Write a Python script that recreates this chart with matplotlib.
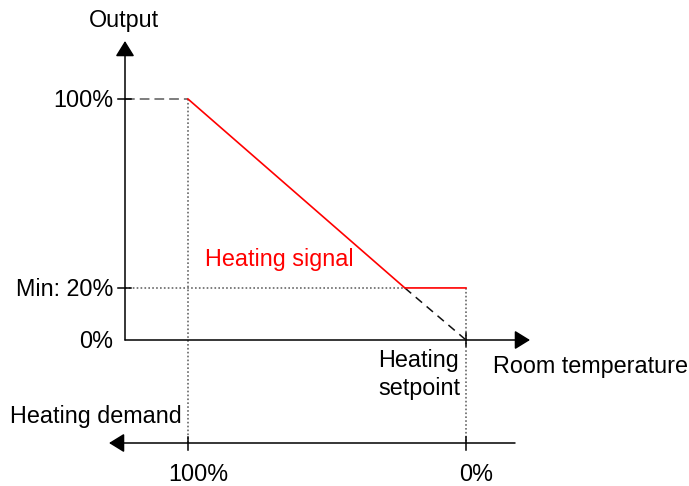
import matplotlib
matplotlib.use('Agg')
import matplotlib.pyplot as plt
from matplotlib import transforms as mtransforms

# ---------------- data ----------------
signal_demand = [100, 22, 0]        # heating demand (%) at breakpoints
signal_output = [100, 21.6, 21.6]   # heating signal output (%)
ext_demand = [22, 0]                # dashed continuation below minimum
ext_output = [21.6, 0]
min_output = 21.6
y_ticks = [100, 21.6, 0]
y_tick_labels = ['100%', 'Min: 20%', '0%']
demand_ticks = [100, 0]
demand_tick_labels = ['100%', '0%']

# ---------------- layout ----------------
W, H = 689, 486
plt.rcParams['font.family'] = ['Liberation Sans', 'DejaVu Sans']
plt.rcParams['lines.scale_dashes'] = False
FS = 16.8

fig = plt.figure(figsize=(W / 100, H / 100), dpi=100)
ax = fig.add_axes([0, 0, 1, 1])
ax.set_axis_off()

X100, X0 = 188, 466      # pixel x of demand 100% / 0%
Y100, Y0 = 99, 340       # pixel y of output 100% / 0%
sx = (X0 - X100) / 100.0
sy = (Y0 - Y100) / 100.0
ax.set_xlim(100 + X100 / sx, 100 - (W - X100) / sx)
ax.set_ylim((Y0 - H) / sy, Y0 / sy)


def dx(px):
    return 100 - (px - X100) / sx


def dy(py):
    return (Y0 - py) / sy


def pxx(d):
    return X100 + (100 - d) * sx


def pxy(o):
    return Y0 - o * sy


pix = mtransforms.Affine2D().scale(1 / W, -1 / H).translate(0, 1) + fig.transFigure

YAX = 125          # pixel x of output axis
DEM_Y = 443        # pixel y of heating demand axis

arrow_style = '-|>,head_length=9.4,head_width=5.8'


def arrow(x0, y0, x1, y1):
    ax.annotate('', xy=(x1, y1), xytext=(x0, y0), xycoords=pix, textcoords=pix,
                arrowprops=dict(arrowstyle=arrow_style, mutation_scale=1,
                                lw=1.1, color='black', shrinkA=0, shrinkB=0))


# axes with arrows
arrow(YAX, Y0, YAX, 41)          # output axis
arrow(YAX, Y0, 530, Y0)          # room temperature axis
arrow(515, DEM_Y, 109, DEM_Y)    # heating demand axis

# guide lines
gray = '#5a5a5a'
ax.plot([dx(YAX), signal_demand[0]], [signal_output[0], signal_output[0]],
        color=gray, lw=1.1, dashes=(7, 3.6), zorder=2)
ax.plot([dx(YAX), ext_demand[0]], [min_output, min_output],
        color=gray, lw=1.1, dashes=(1.2, 1.6), zorder=2)
ax.plot([demand_ticks[0], demand_ticks[0]], [signal_output[0], dy(DEM_Y)],
        color=gray, lw=1.1, dashes=(1.2, 1.6), zorder=2)
ax.plot([demand_ticks[1], demand_ticks[1]], [min_output, dy(DEM_Y)],
        color=gray, lw=1.1, dashes=(1.2, 1.6), zorder=2)

# ticks
for t in y_ticks[:2]:
    ax.plot([dx(118), dx(131)], [t, t], color='black', lw=1.1, zorder=3)
for t in demand_ticks:
    ax.plot([t, t], [dy(437), dy(450)], color='black', lw=1.1, zorder=3)
ax.plot([0, 0], [dy(333), dy(346)], color='black', lw=1.1, zorder=3)

# heating signal and its continuation
ax.plot(ext_demand, ext_output, color='#111111', lw=1.1, dashes=(6, 4.3), zorder=3)
ax.plot(signal_demand, signal_output, color='#ff0000', lw=1.2, zorder=4)

# ---------------- text ----------------
ax.text(124, 27, 'Output', transform=pix, fontsize=FS, ha='center', va='baseline')
for t, lab in zip(y_ticks, y_tick_labels):
    ax.text(113, pxy(t) + 8, lab, transform=pix, fontsize=FS, ha='right', va='baseline')
for t, lab in zip(demand_ticks, demand_tick_labels):
    ax.text(pxx(t) + 10, 481, lab, transform=pix, fontsize=FS, ha='center', va='baseline')
ax.text(205, 266, 'Heating signal', transform=pix, fontsize=FS, color='#ff0000',
        ha='left', va='baseline')
ax.text(419, 367, 'Heating', transform=pix, fontsize=FS, ha='center', va='baseline')
ax.text(419, 395, 'setpoint', transform=pix, fontsize=FS, ha='center', va='baseline')
ax.text(493, 373, 'Room temperature', transform=pix, fontsize=FS, ha='left', va='baseline')
ax.text(10, 423, 'Heating demand', transform=pix, fontsize=FS, ha='left', va='baseline')

fig.savefig('out.png', dpi=100, facecolor='white')
